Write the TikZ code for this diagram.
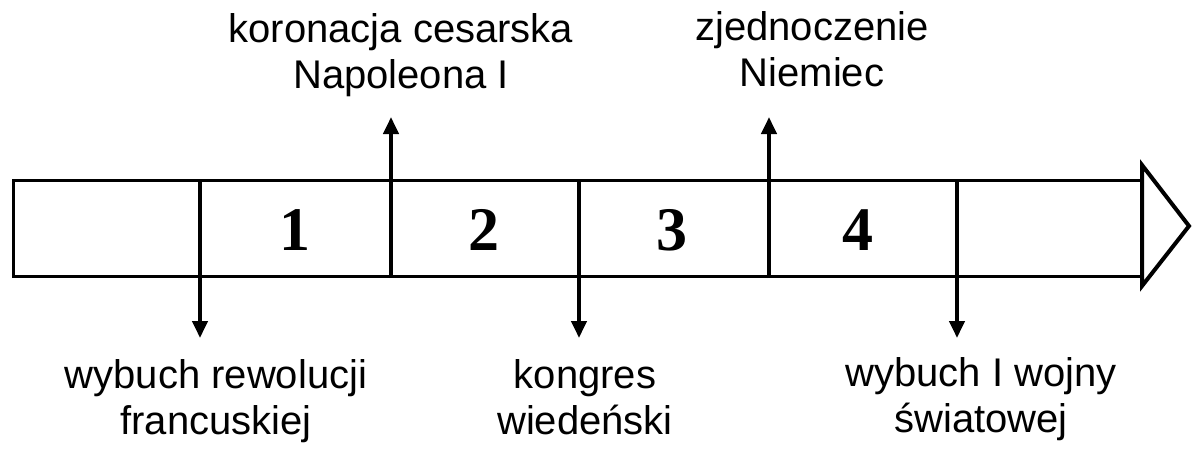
\documentclass[tikz,border=0pt]{standalone}
\usepackage{fontspec}
\setmainfont{Liberation Sans}
\newfontfamily\numfont{Liberation Serif}
\usetikzlibrary{arrows.meta,positioning}

\begin{document}
\begin{tikzpicture}[x=1pt, y=-1pt,
    event/.style = {font=\fontsize{40}{46}\selectfont, align=center, inner sep=0pt, anchor=base},
    num/.style = {font=\numfont\bfseries\fontsize{62}{62}\selectfont, inner sep=0pt, anchor=base},
    tick/.style = {line width=4pt},
    up/.style = {tick, -{Triangle[width=15pt,length=17pt]}},
    down/.style = {tick, -{Triangle[width=15pt,length=17pt]}}]
    \useasboundingbox (0,0) rectangle (1192,448);
    % time bar
    \node[draw, line width=3pt, minimum width=1130pt, minimum height=96pt, inner sep=0pt, anchor=north west] (bar) at (12,179) {};
    \draw[line width=4pt, fill=white] (1142,165) -- (1189,226) -- (1142,286) -- cycle;
    % arrow ends
    \coordinate (t1) at (200,338);
    \coordinate (t2) at (391,117);
    \coordinate (t3) at (579,338);
    \coordinate (t4) at (769,117);
    \coordinate (t5) at (957,338);
    \draw[down] (bar.north -| t1) -- (t1);
    \draw[up] (bar.south -| t2) -- (t2);
    \draw[down] (bar.north -| t3) -- (t3);
    \draw[up] (bar.south -| t4) -- (t4);
    \draw[down] (bar.north -| t5) -- (t5);
    % periods
    \node[num] (1) at (295,250) {1};
    \node[num] (2) at (484,250) {2};
    \node[num] (3) at (672,250) {3};
    \node[num] (4) at (858,250) {4};
    % events
    \node[event] (e1) at (216,434) {wybuch rewolucji\\francuskiej};
    \node[event] (e2) at (401,88) {koronacja cesarska\\Napoleona I};
    \node[event] (e3) at (585,434) {kongres\\wiedeński};
    \node[event] (e4) at (812,86) {zjednoczenie\\Niemiec};
    \node[event] (e5) at (981,432) {wybuch I wojny\\światowej};
\end{tikzpicture}
\end{document}
